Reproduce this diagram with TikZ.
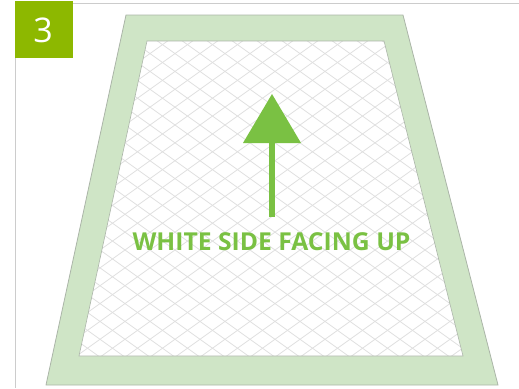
\documentclass[tikz,border=0pt]{standalone}
\usepackage{fontspec}
\setmainfont{Open Sans}
\definecolor{badge}{HTML}{8DB800}
\definecolor{padfill}{HTML}{CFE5C6}
\definecolor{padedge}{HTML}{ABB5A8}
\definecolor{arrowgreen}{HTML}{7AC143}
\definecolor{hatchgray}{HTML}{E0E0E0}
\definecolor{framegray}{HTML}{CCCCCC}
\tikzset{
  hatchline/.style={draw=hatchgray, line width=0.8pt},
  frameline/.style={draw=framegray, line width=1pt},
  pad/.style={fill=padfill, draw=padedge, line width=0.8pt},
}
\begin{document}
\begin{tikzpicture}[x=1pt,y=-1pt]
\useasboundingbox (0,0) rectangle (519,388);
% outer frame lines
\coordinate (ftl) at (15,3);
\coordinate (ftr) at (519,3);
\coordinate (fbl) at (15,388);
\draw[frameline] (ftr) -- (ftl) -- (fbl);
% pad outer
\coordinate (o1) at (126,15);
\coordinate (o2) at (403,15);
\coordinate (o3) at (498,385);
\coordinate (o4) at (46,385);
\draw[pad] (o1) -- (o2) -- (o3) -- (o4) -- cycle;
% pad inner
\coordinate (i1) at (147,41);
\coordinate (i2) at (384,41);
\coordinate (i3) at (463,356);
\coordinate (i4) at (79,356);
\fill[white] (i1) -- (i2) -- (i3) -- (i4) -- cycle;
\begin{scope}
\clip (i1) -- (i2) -- (i3) -- (i4) -- cycle;
\foreach \c in {-500,-475,...,1000} {
  \draw[hatchline] (\c,0) -- ++(560,400);
  \draw[hatchline] (\c,0) -- ++(-560,400);
}
\end{scope}
\draw[draw=padedge, line width=0.6pt] (i1) -- (i2) -- (i3) -- (i4) -- cycle;
% badge
\fill[badge] (15,1) rectangle (73,58);
\node[text=white, font=\fontsize{34}{34}\selectfont, anchor=center] (num) at (43,30) {3};
% arrow
\coordinate (tip) at (272,94);
\coordinate (bl) at (243,143);
\coordinate (br) at (301,143);
\fill[arrowgreen] (tip) -- (br) -- (bl) -- cycle;
\coordinate (shafttop) at (272,142);
\coordinate (shaftbot) at (272,217);
\draw[arrowgreen, line width=6pt] (shafttop) -- (shaftbot);
% label
\node[text=arrowgreen, font=\fontsize{24.7}{25}\selectfont\bfseries, anchor=center, inner sep=0pt] (label) at (271.5,242) {WHITE SIDE FACING UP};
\end{tikzpicture}
\end{document}
